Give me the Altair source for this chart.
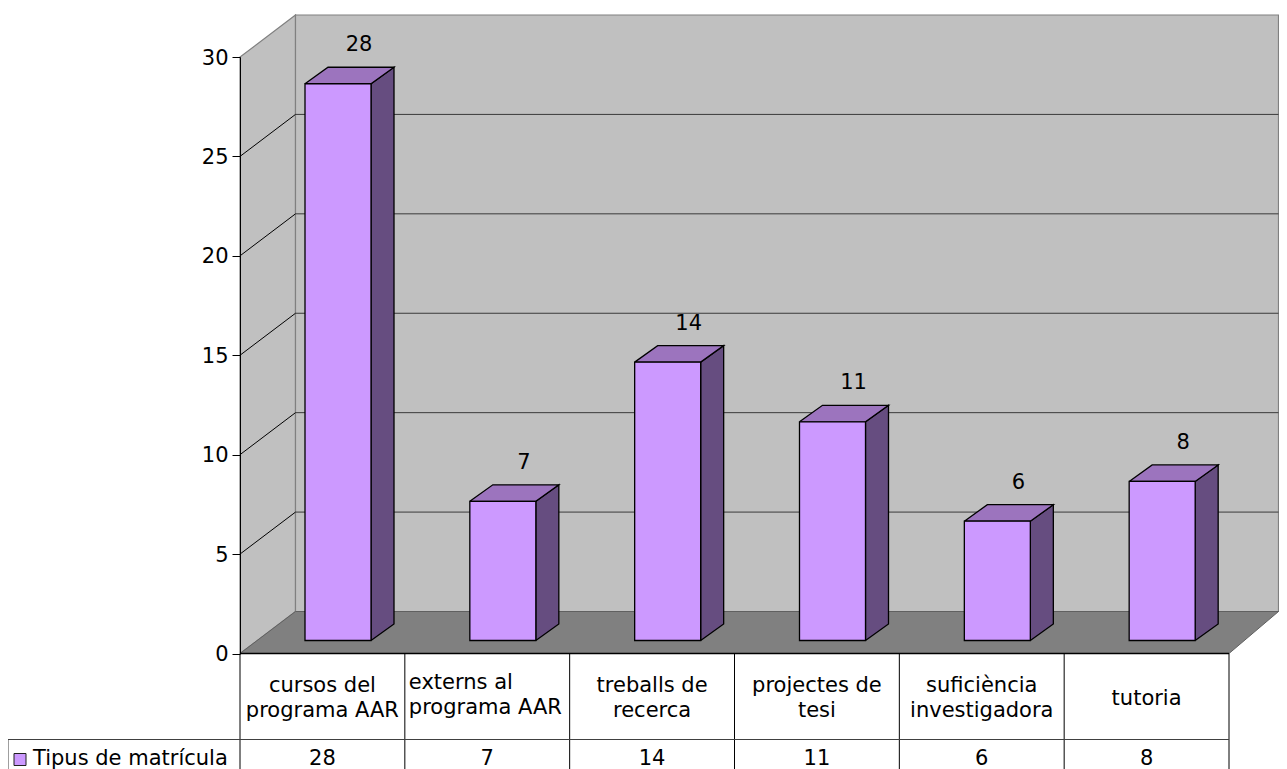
import altair as alt
import pandas as pd

categories = ["cursos del\nprograma AAR", "externs al\nprograma AAR", "treballs de\nrecerca",
              "projectes de\ntesi", "suficiència\ninvestigadora", "tutoria"]
values = [28, 7, 14, 11, 6, 8]
series_name = "Tipus de matrícula"
y_ticks = [0, 5, 10, 15, 20, 25, 30]

# layout in pixels of the projected 3D box
VIEW_W, VIEW_H = 989, 596.5
UX, UY = VIEW_W / 6, VIEW_H / 30
px = lambda p: p / UX
py = lambda p: p / UY
DX, DY = px(55.5), py(42)           # wall depth
DXR = px(49.5)                      # right end of the back wall, kept inside the page
BAR_OFF_X, BAR_W = px(65), px(66)   # bar front left inside a category, width
BAR_BASE = py(13)
BDX, BDY = px(23), py(16.5)         # bar depth
FONT = "DejaVu Sans"
FS = 21

X = alt.Scale(domain=[0, 6], range=[0, VIEW_W], nice=False, zero=False)
Y = alt.Scale(domain=[0, 30], range=[VIEW_H, 0], nice=False, zero=False)
ex = alt.X("x:Q", scale=X, axis=None)
y_axis = alt.Axis(values=y_ticks, title=None, grid=False, domainColor="#000000", tickColor="#000000",
                  tickSize=8, labelFont=FONT, labelFontSize=FS, labelColor="#000000", labelPadding=4,
                  labelOffset=1, format="d", zindex=1)
ey = alt.Y("y:Q", scale=Y, axis=y_axis)


def poly(points, fill, stroke, sw=1.0):
    closed = list(points) + [points[0]]
    rows = [dict(x=p[0], y=p[1], k=i) for i, p in enumerate(closed)]
    return alt.Chart(pd.DataFrame(rows)).mark_line(fill=fill, stroke=stroke, strokeWidth=sw, strokeJoin="miter").encode(
        x=ex, y=ey, order="k:Q")


def rules(rows, color, sw=1.0):
    return alt.Chart(pd.DataFrame(rows)).mark_rule(color=color, strokeWidth=sw).encode(
        x=ex, x2="x2:Q", y=ey, y2="y2:Q")


def text(rows, **kw):
    props = dict(font=FONT, fontSize=FS, color="#000000", baseline="middle", lineBreak="\n", lineHeight=25)
    props.update(kw)
    return alt.Chart(pd.DataFrame(rows)).mark_text(**props).encode(x=ex, y=ey, text="t:N")


def rect(x0, x1, y0, y1, fill, stroke, sw=1.0):
    return alt.Chart(pd.DataFrame([dict(x=x0, x2=x1, y=y0, y2=y1)])).mark_rect(
        fill=fill, stroke=stroke, strokeWidth=sw).encode(x=ex, x2="x2:Q", y=ey, y2="y2:Q")


layers = []

# walls and floor
layers.append(poly([(0, 0), (DX, DY), (DX, 30 + DY), (0, 30)], "#c0c0c0", "#808080", 1.2))
layers.append(rect(DX, 6 + DXR, DY, 30 + DY, "#c0c0c0", "#808080", 1.2))
layers.append(poly([(0, 0), (DX, DY), (6 + DXR, DY), (6, 0)], "#808080", "#606060", 1))

# gridlines on the back and left walls
grid = [v for v in y_ticks if 0 < v < 30]
layers.append(rules([dict(x=DX, x2=6 + DXR, y=v + DY, y2=v + DY) for v in grid], "#3a3a3a", 1))
layers.append(alt.Chart(pd.DataFrame(
    [dict(g=v, x=0, y=v) for v in grid] + [dict(g=v, x=DX, y=v + DY) for v in grid]
)).mark_line(color="#000000", strokeWidth=1).encode(x=ex, y=ey, detail="g:N"))

# bars
for i, v in enumerate(values):
    left = i + BAR_OFF_X
    right = left + BAR_W
    top = v + BAR_BASE
    layers.append(poly([(right, BAR_BASE), (right + BDX, BAR_BASE + BDY), (right + BDX, top + BDY), (right, top)],
                       "#664d80", "#000000", 1.3))
    layers.append(poly([(left, top), (left + BDX, top + BDY), (right + BDX, top + BDY), (right, top)],
                       "#9c74be", "#000000", 1.3))
    layers.append(rect(left, right, BAR_BASE, top, "#cc99ff", "#000000", 1.3))

# data labels
layers.append(text([dict(x=i + BAR_OFF_X + BAR_W / 2 + px(21), y=v + BAR_BASE + py(38.5), t=str(v))
                    for i, v in enumerate(values)]))

# table
row1, row2, bottom = 0, -py(86), -py(115.5)
tbl_left = -px(232)
lines = [dict(x=k, x2=k, y=row1, y2=bottom) for k in range(0, 7)]
layers.append(rules(lines, "#000000", 1))
layers.append(rules([dict(x=tbl_left, x2=6, y=row2, y2=row2),
                     dict(x=tbl_left, x2=tbl_left, y=row2, y2=bottom)], "#404040", 1))
layers.append(rules([dict(x=0, x2=6, y=0, y2=0)], "#000000", 1.6))

# the first line of a multi-line label sits at its y, single-line labels are centred in the row
cat_rows = [dict(x=i + 0.5, y=-py(32.5 if "\n" in c else 45), t=c) for i, c in enumerate(categories) if i != 1]
layers.append(text(cat_rows))
layers.append(text([dict(x=1 + px(4), y=-py(29.5), t=categories[1])], align="left"))
layers.append(text([dict(x=i + 0.5, y=-py(105.5), t=str(v)) for i, v in enumerate(values)]))
layers.append(text([dict(x=-px(207), y=-py(105.5), t=series_name)], align="left"))
layers.append(rect(-px(226), -px(214), -py(100), -py(112), "#cc99ff", "#202020", 1))

chart = alt.layer(*layers).properties(
    width=VIEW_W, height=VIEW_H,
    autosize=alt.AutoSizeParams(type="none"),
    padding={"left": 232, "top": 49, "right": 50, "bottom": 115.5},
).configure_view(stroke=None)

chart.save("out.html", embed_options={"renderer": "svg", "actions": False})
